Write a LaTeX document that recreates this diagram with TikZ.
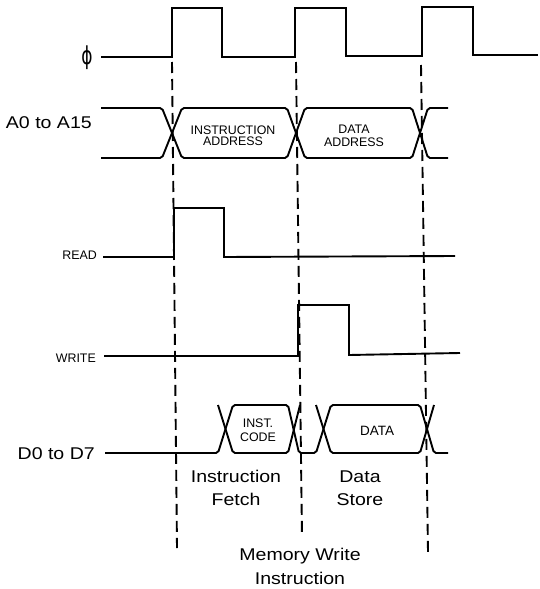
\documentclass[tikz,border=0pt]{standalone}
\usepackage{fontspec}
\setmainfont{Liberation Sans}
\newfontfamily\widefont{Liberation Sans}[FakeStretch=1.15]
\newfontfamily\phifont{DejaVu Sans}
\begin{document}
\begin{tikzpicture}[x=1pt,y=-1pt,
  sig/.style={line width=1.9pt},
  bus/.style={line width=1.9pt, rounded corners=2pt},
  guide/.style={line width=1.9pt, dash pattern=on 11pt off 6pt},
  siglbl/.style={inner sep=0pt, anchor=base east},
  biglbl/.style={inner sep=0pt, anchor=base, font=\widefont\fontsize{17}{20}\selectfont},
  smalllbl/.style={inner sep=0pt, anchor=base, font=\fontsize{12.4}{14}\selectfont}]
\path[use as bounding box] (0,0) rectangle (540,589);

% guide lines
\coordinate (g1t) at (172,62);  \coordinate (g1b) at (177,548);
\coordinate (g2t) at (296,62);  \coordinate (g2b) at (302,537);
\coordinate (g3t) at (421,65);  \coordinate (g3b) at (428,552);
\draw[guide] (g1t) -- (g1b);
\draw[guide] (g2t) -- (g2b);
\draw[guide] (g3t) -- (g3b);

% signal names
\node[inner sep=0pt, font=\phifont\fontsize{17}{20}\selectfont] (phi) at (87,58) {\scalebox{1}[1.45]{ɸ}};
\node[siglbl, font=\widefont\fontsize{17}{20}\selectfont] (abus) at (92,128) {A0 to A15};
\node[siglbl, font=\fontsize{12.4}{14}\selectfont] (read) at (97,259) {READ};
\node[siglbl, font=\fontsize{12.4}{14}\selectfont] (write) at (96,362) {WRITE};
\node[siglbl, font=\widefont\fontsize{17}{20}\selectfont] (dbus) at (95,459) {D0 to D7};

% clock
\draw[sig] (101,57) -- (172,57) -- (172,8) -- (222,8) -- (222,57) -- (295,57) -- (295,8)
  -- (346,8) -- (346,56) -- (422,56) -- (422,7) -- (473,7) -- (473,55) -- (538,55);

% address bus
\draw[bus] (101,108) -- (162,108) -- (182,158) -- (287,158) -- (305,108) -- (412,108) -- (428,158) -- (448,158);
\draw[bus] (101,158) -- (162,158) -- (182,108) -- (287,108) -- (305,158) -- (412,158) -- (428,108) -- (448,108);
\node[smalllbl] (ia1) at (233,134) {INSTRUCTION};
\node[smalllbl] (ia2) at (233,145) {ADDRESS};
\node[smalllbl] (da1) at (354,133) {DATA};
\node[smalllbl] (da2) at (354,146) {ADDRESS};

% read
\draw[sig] (103,257) -- (174,257) -- (174,208) -- (224,208) -- (224,257) -- (455,256);

% write
\draw[sig] (104,356) -- (298,356) -- (298,305) -- (349,305) -- (349,355) -- (460,353);

% data bus
\draw[bus] (105,453) -- (218,453) -- (233,405) -- (288,405) -- (299,453) -- (316,453) -- (331,405) -- (420,405) -- (434,453) -- (448,453);
\draw[bus] (218,405) -- (233,453) -- (288,453) -- (300,405);
\draw[bus] (316,405) -- (331,453) -- (420,453) -- (434,405);
\node[smalllbl] (ic1) at (258,427) {INST.};
\node[smalllbl] (ic2) at (258,441) {CODE};
\node[smalllbl, font=\fontsize{13.5}{16}\selectfont] (dd) at (377,435) {DATA};

% phase labels
\node[biglbl] (if1) at (236,482) {Instruction};
\node[biglbl] (if2) at (236,505) {Fetch};
\node[biglbl] (ds1) at (360,482) {Data};
\node[biglbl] (ds2) at (360,505) {Store};
\node[biglbl] (mw1) at (300,560) {Memory Write};
\node[biglbl] (mw2) at (300,584) {Instruction};
\end{tikzpicture}
\end{document}
